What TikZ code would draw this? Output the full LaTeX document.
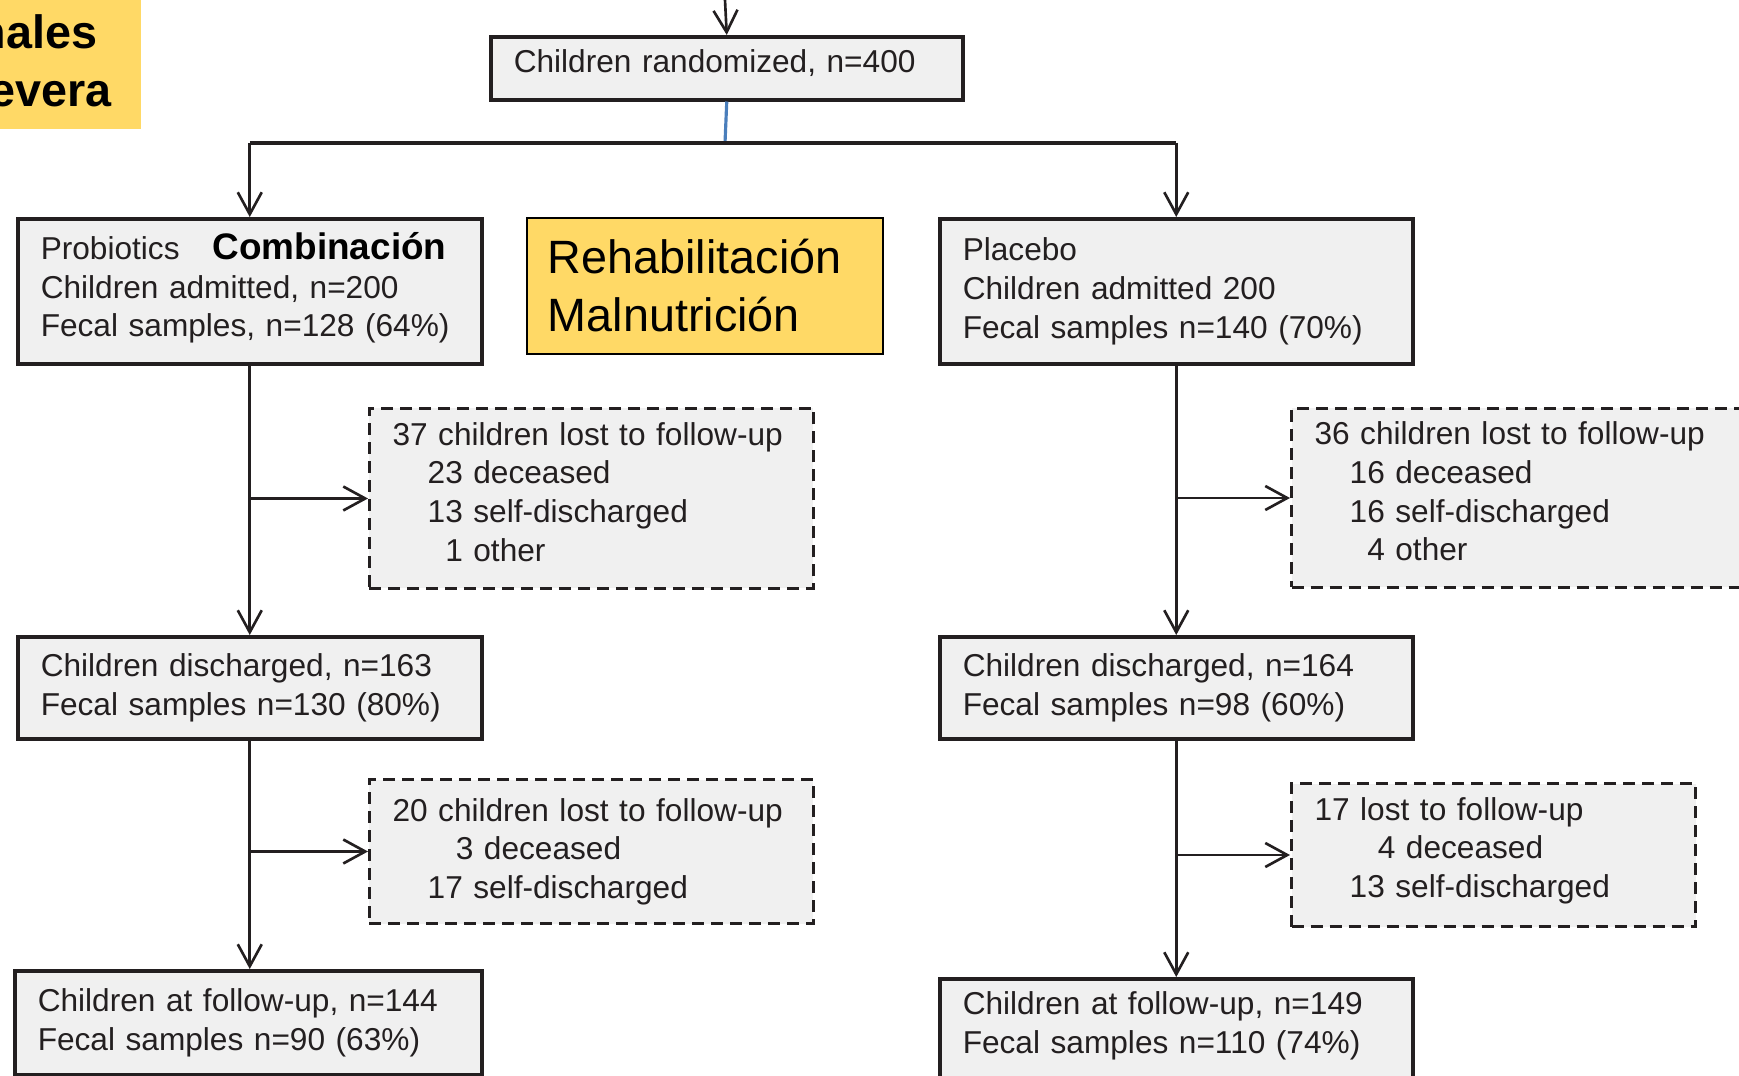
\documentclass[tikz,border=0pt]{standalone}
\usepackage{fontspec}
\setmainfont{Liberation Sans}
\usepackage{xcolor}
\usetikzlibrary{positioning,arrows.meta,calc}
\definecolor{boxbg}{RGB}{240,240,240}
\definecolor{ink}{RGB}{35,31,32}
\definecolor{hilite}{RGB}{255,217,102}
\definecolor{splitblue}{RGB}{74,126,187}
\newcommand{\lift}[1]{\rule[-#1]{0pt}{0pt}}
\tikzset{
  blk/.style={draw=ink,line width=1pt,fill=boxbg,align=left,anchor=north west,inner xsep=2.3mm,inner ysep=0pt,font=\fontsize{9}{11}\selectfont,text=ink},
  lost/.style={blk,dash pattern=on 1.2mm off 0.7mm,line width=0.85pt},
  hl/.style={draw=black,line width=0.5pt,fill=hilite,align=left,anchor=north west,inner xsep=2.1mm,inner ysep=0pt,font=\fontsize{13.3}{16.5}\selectfont},
  tag/.style={anchor=base east,inner sep=0pt,font=\fontsize{13.3}{16.5}\selectfont\bfseries},
  ar/.style={-{Straight Barb[length=2.2mm,width=2.4mm]},line width=0.75pt,draw=ink},
  bar/.style={line width=1.05pt,draw=ink},
}
\begin{document}
\begin{tikzpicture}[x=0.1mm,y=-0.1mm]
  \useasboundingbox (0,0) rectangle (1739,1076);
  \clip (0,0) rectangle (1739,1076);
  % corner label, cut by the page edge
  \fill[hilite] (-10,-10) rectangle (141,129);
  \node[tag] (nales) at (98,49) {nales};
  \node[tag] (evera) at (112,107) {evera};
  % top
  \coordinate (in) at (725,0);
  \node[blk,text width=42.6mm,minimum height=6.3mm] (rand) at (489,35) {Children randomized, n=400\lift{1.35mm}};
  \coordinate (split) at (725,143);
  \draw[ar] (in) -- (rand.north);
  % arms
  \node[blk,text width=41.8mm,minimum height=14.5mm] (prob) at (16,217)
    {Probiotics\hspace{3.3mm}{\fontsize{10.5}{11}\selectfont\bfseries\color{black}Combinación}\\Children admitted, n=200\\Fecal samples, n=128 (64\%)\lift{1.33mm}};
  \node[hl,text width=31.4mm,minimum height=13.6mm] (rehab) at (526,217) {Rehabilitación\\Malnutrición};
  \node[blk,text width=42.7mm,minimum height=14.5mm] (plac) at (938,217)
    {Placebo\\Children admitted 200\\Fecal samples n=140 (70\%)};
  \draw[line width=0.9pt,splitblue] (rand.south) -- (split);
  \draw[bar] (prob.north |- split) -- (plac.north |- split);
  \draw[ar] (prob.north |- split) -- (prob.north);
  \draw[ar] (plac.north |- split) -- (plac.north);
  % first losses
  \node[lost,text width=39.8mm,minimum height=18mm] (lost1L) at (368,407)
    {37 children lost to follow-up\\\phantom{00}23 deceased\\\phantom{00}13 self-discharged\\\phantom{000}1 other\lift{1.34mm}};
  \node[lost,text width=42.4mm,minimum height=17.9mm] (lost1R) at (1290,407)
    {36 children lost to follow-up\\\phantom{00}16 deceased\\\phantom{00}16 self-discharged\\\phantom{000}4 other\lift{1.34mm}};
  \node[blk,text width=41.8mm,minimum height=10.2mm] (dischL) at (16,635)
    {Children discharged, n=163\\Fecal samples n=130 (80\%)};
  \node[blk,text width=42.7mm,minimum height=10.2mm] (dischR) at (938,635)
    {Children discharged, n=164\\Fecal samples n=98 (60\%)};
  \draw[ar] (prob) -- (dischL);
  \draw[ar] (plac) -- (dischR);
  \draw[ar] (lost1L.west -| prob.south) -- (lost1L.west);
  \draw[ar] (lost1R.west -| plac.south) -- (lost1R.west);
  % second losses
  \node[lost,text width=39.8mm,minimum height=14.4mm] (lost2L) at (368,778)
    {20 children lost to follow-up\\\phantom{000}\ 3 deceased\\\phantom{00}17 self-discharged};
  \node[lost,text width=35.8mm,minimum height=14.3mm] (lost2R) at (1290,782)
    {17 lost to follow-up\\\phantom{000}\ 4 deceased\\\phantom{00}13 self-discharged\lift{1.55mm}};
  \node[blk,text width=42.1mm,minimum height=10.4mm] (fupL) at (13,969)
    {Children at follow-up, n=144\\Fecal samples n=90 (63\%)};
  \node[blk,text width=42.7mm,minimum height=10.3mm] (fupR) at (938,977)
    {Children at follow-up, n=149\\Fecal samples n=110 (74\%)\lift{1.55mm}};
  \draw[ar] (dischL.south) -- (dischL.south |- fupL.north);
  \draw[ar] (dischR) -- (fupR);
  \draw[ar] (lost2L.west -| dischL.south) -- (lost2L.west);
  \draw[ar] (lost2R.west -| dischR.south) -- (lost2R.west);
\end{tikzpicture}
\end{document}
